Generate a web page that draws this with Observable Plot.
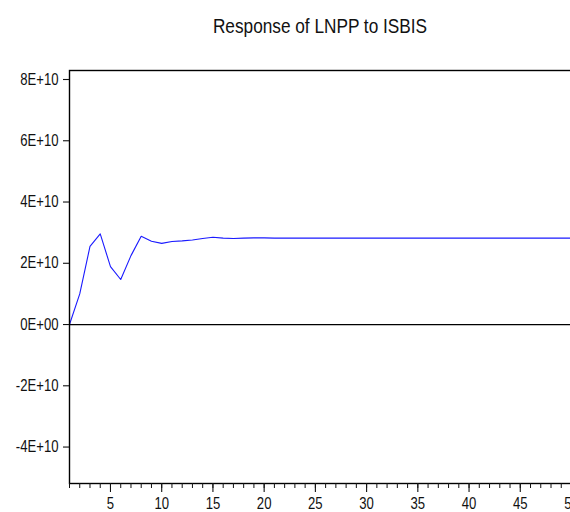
<!DOCTYPE html>
<html>
<head>
<meta charset="utf-8">
<script src="https://cdn.jsdelivr.net/npm/d3@7"></script>
<script src="https://cdn.jsdelivr.net/npm/@observablehq/plot@0.6"></script>
<style>
  html, body { margin: 0; padding: 0; background: #fff; overflow: hidden; }
  #wrap { position: relative; width: 570px; height: 512px; }
  #title {
    position: absolute; top: 15px; left: 0; width: 640px; text-align: center;
    font-family: "Liberation Sans", Arial, sans-serif;
    font-size: 21px; line-height: 1; color: #111;
    transform: scaleX(0.82); transform-origin: 320px 0;
  }
  #chart { position: absolute; top: 0; left: 0; }
</style>
</head>
<body>
<div id="wrap">
  <div id="chart"></div>
  <div id="title">Response of LNPP to ISBIS</div>
</div>
<script>
// Periods 1..50 and response values (in units of 1E+10)
const periods = d3.range(1, 51);
const response = [
  0.00, 1.00, 2.55, 2.96, 1.89, 1.47, 2.25, 2.88, 2.72, 2.65,
  2.71, 2.73, 2.76, 2.81, 2.85, 2.82, 2.81, 2.82, 2.83, 2.83,
  2.82, 2.82, 2.82, 2.82, 2.82, 2.82, 2.82, 2.82, 2.82, 2.82,
  2.82, 2.82, 2.82, 2.82, 2.82, 2.82, 2.82, 2.82, 2.82, 2.82,
  2.82, 2.82, 2.82, 2.82, 2.82, 2.82, 2.82, 2.82, 2.82, 2.82
];
const yTicks = [-4e10, -2e10, 0, 2e10, 4e10, 6e10, 8e10];
const xMajorTicks = [5, 10, 15, 20, 25, 30, 35, 40, 45, 50];
const xMinorTicks = periods;

const data = periods.map((p, i) => ({period: p, value: response[i] * 1e10}));
const fmtY = d => d === 0 ? "0E+00" : (d / 1e10) + "E+10";

const chart = Plot.plot({
  width: 570,
  height: 512,
  marginLeft: 69,
  marginRight: -1,
  marginTop: 70,
  marginBottom: 29,
  style: {
    fontFamily: '"Liberation Sans", Arial, sans-serif',
    fontSize: "16px",
    color: "#111",
    overflow: "hidden"
  },
  x: {domain: [1, 50]},
  y: {domain: [-5.19e10, 8.294e10]},
  marks: [
    Plot.ruleY([0], {stroke: "#000", strokeWidth: 1.3}),
    Plot.lineY(data, {x: "period", y: "value", stroke: "#1a1aff", strokeWidth: 1.1}),
    Plot.frame({stroke: "#000", strokeWidth: 1.4}),
    Plot.axisY({ticks: yTicks, tickFormat: fmtY, tickSize: 6, tickPadding: 5, label: null, strokeWidth: 1.1}),
    Plot.axisX({ticks: xMinorTicks, text: null, tickSize: 5, label: null, strokeWidth: 1}),
    Plot.axisX({ticks: xMajorTicks, tickFormat: d => String(d), tickSize: 9, tickPadding: 5, label: null, strokeWidth: 1.1})
  ]
});
// condense the axis labels horizontally to mimic a narrow typeface
chart.querySelectorAll("text").forEach(t => {
  const tr = t.getAttribute("transform") || "";
  t.setAttribute("transform", (tr + " scale(0.82,1)").trim());
});
document.getElementById("chart").appendChild(chart);
</script>
</body>
</html>
